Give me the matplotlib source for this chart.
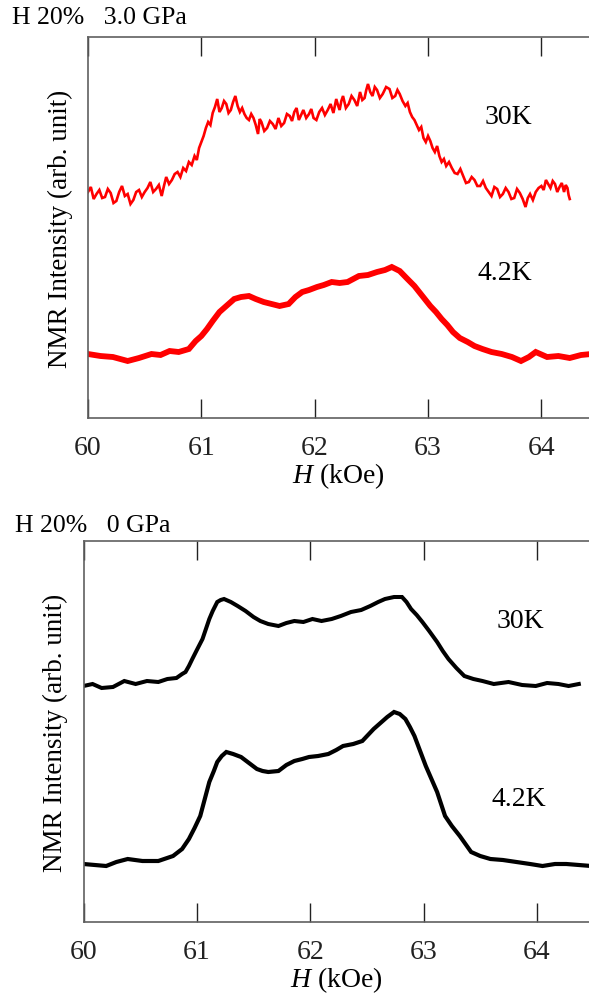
import matplotlib
matplotlib.use("Agg")
import matplotlib.pyplot as plt

plt.rcParams['font.family'] = ['Liberation Serif', 'DejaVu Serif']
plt.rcParams['mathtext.fontset'] = 'custom'
plt.rcParams['mathtext.rm'] = 'Liberation Serif'
plt.rcParams['mathtext.it'] = 'Liberation Serif:italic'

# --- data: field H (kOe) and intensity (arb. unit) ---
h_30k_3gpa = [60.00, 60.025, 60.05, 60.075, 60.10, 60.125, 60.15, 60.175, 60.20, 60.225,
              60.25, 60.275, 60.30, 60.325, 60.35, 60.375, 60.40, 60.425, 60.45, 60.475,
              60.50, 60.525, 60.55, 60.575, 60.60, 60.625, 60.65, 60.67, 60.69, 60.715,
              60.74, 60.765, 60.79, 60.815, 60.84, 60.865, 60.89, 60.915, 60.94, 60.96,
              60.98, 61.00, 61.02, 61.04, 61.06, 61.08, 61.10, 61.12, 61.14, 61.16,
              61.18, 61.20, 61.22, 61.24, 61.26, 61.28, 61.30, 61.32, 61.34, 61.36,
              61.38, 61.40, 61.42, 61.44, 61.46, 61.48, 61.50, 61.515, 61.53, 61.555,
              61.58, 61.605, 61.63, 61.655, 61.68, 61.705, 61.73, 61.755, 61.78, 61.80,
              61.82, 61.84, 61.86, 61.88, 61.90, 61.925, 61.95, 61.97, 61.99, 62.015,
              62.04, 62.065, 62.09, 62.115, 62.14, 62.165, 62.19, 62.205, 62.22, 62.235,
              62.25, 62.275, 62.30, 62.325, 62.35, 62.375, 62.40, 62.42, 62.44, 62.455,
              62.47, 62.49, 62.51, 62.53, 62.55, 62.575, 62.60, 62.63, 62.66, 62.685,
              62.71, 62.73, 62.75, 62.775, 62.80, 62.82, 62.84, 62.86, 62.88, 62.90,
              62.92, 62.94, 62.96, 62.98, 63.00, 63.02, 63.04, 63.06, 63.08, 63.10,
              63.12, 63.14, 63.16, 63.185, 63.21, 63.235, 63.26, 63.285, 63.31, 63.335,
              63.36, 63.385, 63.41, 63.435, 63.46, 63.485, 63.51, 63.535, 63.56, 63.585,
              63.61, 63.635, 63.66, 63.685, 63.71, 63.735, 63.76, 63.785, 63.81, 63.835,
              63.86, 63.88, 63.90, 63.925, 63.95, 63.975, 64.00, 64.02, 64.04, 64.06,
              64.08, 64.10, 64.12, 64.14, 64.16, 64.18, 64.20, 64.215, 64.23, 64.24,
              64.25]
i_30k_3gpa = [226, 231, 219, 224, 228, 220, 221, 229, 225, 215,
              217, 226, 232, 222, 224, 214, 218, 226, 228, 221,
              226, 230, 236, 226, 229, 233, 222, 232, 241, 234,
              238, 244, 246, 241, 250, 247, 256, 253, 262, 258,
              270, 276, 282, 290, 296, 293, 305, 311, 319, 306,
              310, 317, 314, 305, 308, 316, 322, 312, 306, 310,
              304, 300, 298, 304, 300, 293, 284, 299, 296, 287,
              290, 297, 294, 289, 300, 292, 295, 304, 302, 297,
              306, 310, 298, 303, 308, 300, 304, 309, 300, 298,
              306, 310, 303, 308, 314, 305, 319, 313, 308, 317,
              322, 310, 314, 322, 318, 312, 326, 318, 320, 328,
              334, 326, 322, 331, 328, 320, 324, 331, 329, 320,
              322, 328, 324, 317, 312, 315, 306, 301, 298, 293,
              288, 291, 280, 276, 282, 277, 270, 266, 272, 262,
              256, 259, 252, 256, 250, 245, 244, 249, 242, 235,
              236, 241, 238, 232, 232, 237, 230, 226, 222, 231,
              229, 221, 224, 230, 226, 219, 220, 229, 225, 219,
              211, 220, 224, 218, 226, 230, 232, 228, 238, 234,
              230, 237, 234, 226, 231, 235, 226, 233, 230, 223,
              219]

h_4k_3gpa = [60.00, 60.11, 60.22, 60.35, 60.45, 60.56, 60.64, 60.72, 60.80, 60.89,
             60.95, 61.00, 61.05, 61.10, 61.16, 61.22, 61.29, 61.35, 61.42, 61.48,
             61.55, 61.62, 61.69, 61.77, 61.83, 61.89, 61.95, 62.02, 62.08, 62.15,
             62.22, 62.29, 62.34, 62.39, 62.47, 62.55, 62.62, 62.68, 62.75, 62.81,
             62.88, 62.95, 63.02, 63.07, 63.12, 63.17, 63.22, 63.28, 63.35, 63.41,
             63.48, 63.56, 63.65, 63.74, 63.82, 63.89, 63.95, 64.05, 64.15, 64.25,
             64.35, 64.44]
i_4k_3gpa = [64, 62, 61, 57, 60, 64, 63, 67, 66, 69,
             77, 82, 89, 97, 106, 112, 119, 121, 122, 119,
             116, 114, 112, 114, 121, 126, 128, 131, 133, 136,
             135, 136, 139, 142, 143, 146, 148, 151, 147, 140,
             132, 122, 112, 106, 99, 93, 86, 80, 76, 72,
             69, 66, 64, 61, 57, 61, 66, 61, 62, 60,
             63, 64]

h_30k_0gpa = [60.00, 60.08, 60.16, 60.26, 60.36, 60.46, 60.56, 60.66, 60.74, 60.82,
              60.87, 60.90, 60.93, 60.96, 61.00, 61.05, 61.08, 61.11, 61.14, 61.18,
              61.21, 61.24, 61.30, 61.36, 61.43, 61.50, 61.56, 61.63, 61.72, 61.79,
              61.86, 61.94, 62.02, 62.10, 62.19, 62.27, 62.36, 62.45, 62.53, 62.60,
              62.66, 62.74, 62.81, 62.85, 62.89, 62.94, 62.99, 63.05, 63.12, 63.17,
              63.22, 63.29, 63.36, 63.44, 63.52, 63.62, 63.75, 63.87, 63.99, 64.09,
              64.19, 64.28, 64.37]
i_30k_0gpa = [236, 238, 234, 235, 241, 238, 241, 240, 243, 244,
              248, 250, 256, 263, 272, 283, 293, 303, 311, 320,
              322, 323, 320, 316, 311, 305, 301, 298, 296, 299,
              301, 300, 303, 301, 303, 306, 310, 312, 316, 320,
              323, 325, 325, 320, 313, 307, 300, 291, 280, 271,
              263, 254, 246, 243, 241, 238, 240, 237, 236, 239,
              238, 236, 238]

h_4k_0gpa = [60.00, 60.10, 60.20, 60.29, 60.39, 60.52, 60.66, 60.79, 60.87, 60.93,
             60.98, 61.03, 61.07, 61.11, 61.15, 61.18, 61.22, 61.26, 61.32, 61.39,
             61.46, 61.53, 61.58, 61.63, 61.72, 61.79, 61.86, 61.93, 61.99, 62.07,
             62.16, 62.23, 62.29, 62.38, 62.46, 62.51, 62.56, 62.62, 62.68, 62.74,
             62.79, 62.84, 62.88, 62.92, 62.97, 63.02, 63.07, 63.12, 63.19, 63.25,
             63.32, 63.42, 63.50, 63.59, 63.70, 63.82, 63.94, 64.05, 64.16, 64.26,
             64.37, 64.48]
i_4k_0gpa = [58, 57, 56, 60, 63, 61, 61, 66, 73, 83,
             94, 106, 123, 140, 151, 160, 166, 170, 168, 165,
             159, 153, 151, 150, 151, 157, 161, 163, 165, 166,
             168, 172, 176, 178, 181, 187, 193, 199, 205, 210,
             208, 203, 195, 186, 171, 156, 143, 130, 106, 96,
             86, 70, 66, 63, 62, 60, 58, 56, 58, 58,
             57, 56]

panels = [
    dict(title="H 20%   3.0 GPa", color="#ff0000",
         curves=[(h_30k_3gpa, i_30k_3gpa, 1.9), (h_4k_3gpa, i_4k_3gpa, 4.2)],
         labels=[("30K", 508, 118), ("4.2K", 505, 274)],
         left=88, bottom=419, xmax=64.42, title_xy=(12, 24)),
    dict(title="H 20%   0 GPa", color="black",
         curves=[(h_30k_0gpa, i_30k_0gpa, 2.9), (h_4k_0gpa, i_4k_0gpa, 3.0)],
         labels=[("30K", 520, 622), ("4.2K", 519, 800)],
         left=83.5, bottom=923, xmax=64.46, title_xy=(15, 532)),
]

W, H = 589, 995
fig = plt.figure(figsize=(W / 100, H / 100), dpi=100)

for p in panels:
    ax = fig.add_axes([p['left'] / W, (H - p['bottom']) / H,
                       (W - p['left']) / W, 381 / H])
    for hx, iy, lw in p['curves']:
        ax.plot(hx, iy, color=p['color'], linewidth=lw, solid_joinstyle='miter')
    ax.set_xlim(60, p['xmax'])
    ax.set_ylim(0, 381)
    ax.set_xticks([60, 61, 62, 63, 64])
    ax.set_yticks([])
    ax.tick_params(axis='x', direction='in', top=True, bottom=True,
                   length=13.7, width=1.0, pad=12, labelsize=20, colors='#222222')
    for side in ['left', 'top', 'bottom']:
        ax.spines[side].set_color('#606060')
        ax.spines[side].set_linewidth(1.2)
    ax.spines['right'].set_visible(False)
    ax.set_xlabel(r"$\it{H}$ (kOe)", fontsize=20)
    ax.xaxis.set_label_coords(0.5, -0.112)
    ax.set_ylabel("NMR Intensity (arb. unit)", fontsize=19.5)
    ax.yaxis.set_label_coords(-0.03, 0.5)
    for txt, px, py in p['labels']:
        fig.text(px / W, 1 - py / H, txt, fontsize=20, ha='center', va='center')
    tx, ty = p['title_xy']
    fig.text(tx / W, 1 - ty / H, p['title'], fontsize=18.5, ha='left', va='baseline')

fig.savefig("out.png", dpi=100)
